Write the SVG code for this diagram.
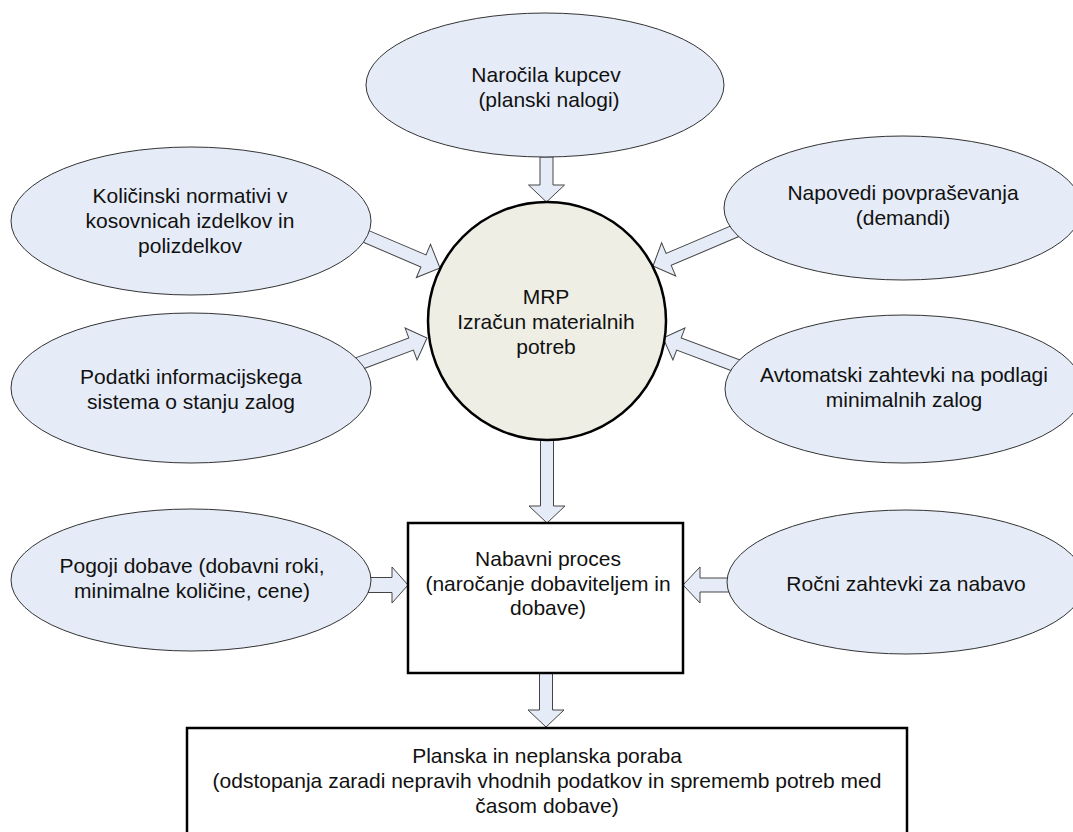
<svg xmlns="http://www.w3.org/2000/svg" width="1073" height="832" viewBox="0 0 1073 832">
<style>
.ell{fill:#e6ecf7;stroke:#333;stroke-width:1}
.circ{fill:#eeeee5;stroke:#000;stroke-width:2.5}
.box{fill:#fff;stroke:#000;stroke-width:2.5}
.arr{fill:#e6ecf7;stroke:#444;stroke-width:1;stroke-linejoin:miter}
text{font-family:"Liberation Sans",Arial,sans-serif;font-size:21px;fill:#111;text-anchor:middle}
</style>
<rect width="1073" height="832" fill="#fff"/>
<g id="connectors">
<path class="arr" transform="translate(546.5,157) rotate(90)" d="M0,-6.5 L28,-6.5 L28,-18 L45,0 L28,18 L28,6.5 L0,6.5 Z"/>
<path class="arr" transform="translate(547,438) rotate(90)" d="M0,-6.5 L68,-6.5 L68,-18 L85,0 L68,18 L68,6.5 L0,6.5 Z"/>
<path class="arr" transform="translate(546,673) rotate(90)" d="M0,-6.5 L37,-6.5 L37,-18 L54,0 L37,18 L37,6.5 L0,6.5 Z"/>
<path class="arr" transform="translate(368,585)" d="M0,-7.5 L24,-7.5 L24,-18 L40,0 L24,18 L24,7.5 L0,7.5 Z"/>
<path class="arr" transform="translate(729,585) rotate(180)" d="M0,-7 L29,-7 L29,-18 L46,0 L29,18 L29,7 L0,7 Z"/>
<path class="arr" transform="translate(440,268) rotate(23.1) translate(-82,0)" d="M0,-6.5 L64,-6.5 L64,-18 L82,0 L64,18 L64,6.5 L0,6.5 Z"/>
<path class="arr" transform="translate(427,338) rotate(-20.6) translate(-76,0)" d="M0,-6.5 L59,-6.5 L59,-17 L76,0 L59,17 L59,6.5 L0,6.5 Z"/>
<path class="arr" transform="translate(653,266) rotate(157) translate(-90,0)" d="M0,-6.5 L73,-6.5 L73,-18 L90,0 L73,18 L73,6.5 L0,6.5 Z"/>
<path class="arr" transform="translate(663,338) rotate(200.6) translate(-80,0)" d="M0,-6.5 L63,-6.5 L63,-17 L80,0 L63,17 L63,6.5 L0,6.5 Z"/>
</g>
<g id="narocila">
<ellipse class="ell" cx="545" cy="85" rx="179" ry="72"/>
<text x="546" y="82">Naročila kupcev</text>
<text x="549" y="107">(planski nalogi)</text>
</g>
<g id="kolicinski">
<ellipse class="ell" cx="191" cy="221" rx="180" ry="74"/>
<text x="190" y="203">Količinski normativi v</text>
<text x="190" y="228">kosovnicah izdelkov in</text>
<text x="190" y="253">polizdelkov</text>
</g>
<g id="podatki">
<ellipse class="ell" cx="191" cy="388" rx="180" ry="75"/>
<text x="191" y="384">Podatki informacijskega</text>
<text x="191" y="409">sistema o stanju zalog</text>
</g>
<g id="napovedi">
<ellipse class="ell" cx="903" cy="208" rx="179" ry="72"/>
<text x="903" y="200">Napovedi povpraševanja</text>
<text x="903" y="225">(demandi)</text>
</g>
<g id="avtomatski">
<ellipse class="ell" cx="904" cy="389" rx="179" ry="74"/>
<text x="904" y="382">Avtomatski zahtevki na podlagi</text>
<text x="904" y="407">minimalnih zalog</text>
</g>
<g id="mrp">
<circle class="circ" cx="547" cy="321" r="119"/>
<text x="546" y="304">MRP</text>
<text x="546" y="329">Izračun materialnih</text>
<text x="546" y="354">potreb</text>
</g>
<g id="pogoji">
<ellipse class="ell" cx="191" cy="580" rx="180" ry="71"/>
<text x="192" y="573">Pogoji dobave (dobavni roki,</text>
<text x="192" y="598">minimalne količine, cene)</text>
</g>
<g id="rocni">
<ellipse class="ell" cx="906" cy="582" rx="179" ry="72"/>
<text x="906" y="591">Ročni zahtevki za nabavo</text>
</g>
<g id="nabavni">
<rect class="box" x="408" y="523" width="275" height="150"/>
<text x="548" y="566">Nabavni proces</text>
<text x="548" y="591">(naročanje dobaviteljem in</text>
<text x="548" y="615">dobave)</text>
</g>
<g id="poraba">
<rect class="box" x="187" y="728" width="720" height="115"/>
<text x="547" y="763">Planska in neplanska poraba</text>
<text x="547" y="788">(odstopanja zaradi nepravih vhodnih podatkov in sprememb potreb med</text>
<text x="547" y="813">časom dobave)</text>
</g>
</svg>
